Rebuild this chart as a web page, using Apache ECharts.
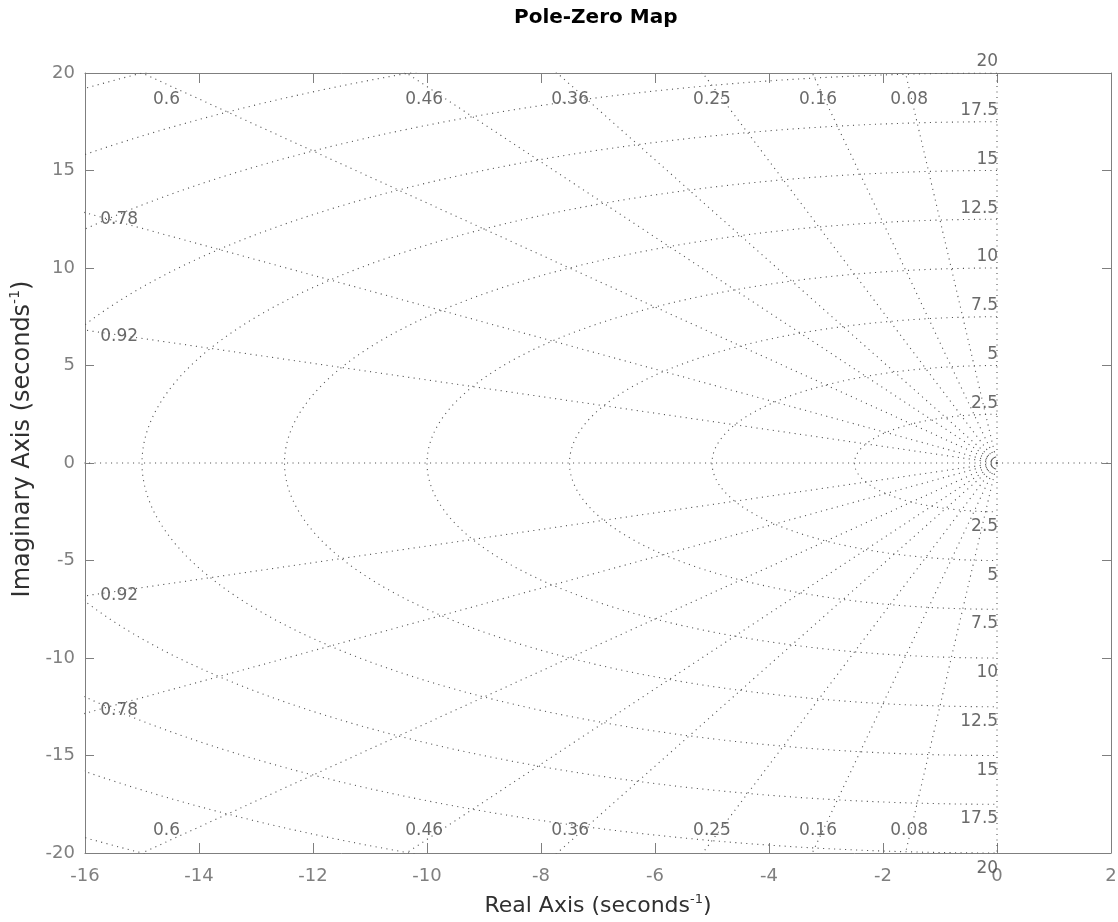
<!DOCTYPE html>
<html><head><meta charset="utf-8">
<script src="https://cdn.jsdelivr.net/npm/echarts@6/dist/echarts.min.js"></script>
<style>html,body{margin:0;padding:0;background:#fff}#c{width:1118px;height:922px}</style>
</head><body><div id="c"></div>
<script>
// ---- chart content ----
const xTicks = [-16, -14, -12, -10, -8, -6, -4, -2, 0, 2];
const yTicks = [-20, -15, -10, -5, 0, 5, 10, 15, 20];
const zetaValues = [0.08, 0.16, 0.25, 0.36, 0.46, 0.6, 0.78, 0.92];
const wnValues = [2.5, 5, 7.5, 10, 12.5, 15, 17.5, 20, 22.5, 25];
const wnLabelValues = [2.5, 5, 7.5, 10, 12.5, 15, 17.5, 20];
const zetaEdgeLabels = ['0.6', '0.46', '0.36', '0.25', '0.16', '0.08'];
const zetaEdgeLabelX = [-14.57, -10.05, -7.49, -5.0, -3.14, -1.54];
const zetaEdgeLabelY = [18.65, -18.85];
const zetaSideLabels = ['0.78', '0.92'];
const zetaSideLabelX = -15.4;
const zetaSideLabelY = [[12.5, -12.7], [6.5, -6.8]];
const wnLabelOffset = [0.57, -0.75];

// ---- styles ----
const FONT = 'DejaVu Sans';
const AXIS_C = '#7f7f7f';
const GRID_C = '#555555';
const GRIDTXT_C = '#454545';
const NAME_C = '#303030';
const dotted = { color: GRID_C, width: 1.1, type: [1.1, 4.4] };

const series = [];
function addLine(pts) {
  series.push({
    type: 'line', data: pts, showSymbol: false, symbol: 'none', silent: true,
    clip: true, lineStyle: dotted, emphasis: { disabled: true }, animation: false,
    xAxisIndex: 0, yAxisIndex: 0
  });
}
const rMax = wnValues[wnValues.length - 1];
// damping-ratio rays
zetaValues.forEach(z => {
  const s = Math.sqrt(1 - z * z);
  addLine([[0, 0], [-rMax * z, rMax * s]]);
  addLine([[0, 0], [-rMax * z, -rMax * s]]);
});
// real and imaginary axis lines
addLine([[-rMax, 0], [xTicks[xTicks.length - 1], 0]]);
addLine([[0, -rMax], [0, rMax]]);
// natural-frequency semicircles (left half plane)
wnValues.forEach(r => {
  const pts = [];
  for (let k = 0; k <= 360; k++) {
    const t = Math.PI / 2 + Math.PI * k / 360;
    pts.push([r * Math.cos(t), r * Math.sin(t)]);
  }
  addLine(pts);
});

// labels
const txtStyle = { fontFamily: FONT, fontSize: 17, color: GRIDTXT_C };
const wnLabelData = [];
wnLabelValues.forEach(w => {
  wnLabelData.push({ value: [0.02, w + wnLabelOffset[0]], name: String(w) });
  wnLabelData.push({ value: [0.02, -w + wnLabelOffset[1] + (w === 20 ? -0.05 : 0)], name: String(w) });
});
series.push({
  type: 'scatter', data: wnLabelData, symbolSize: 0, clip: false, silent: true, animation: false,
  label: Object.assign({ show: true, position: 'left', distance: 0, formatter: p => p.name }, txtStyle)
});
const zetaLabelData = [];
zetaEdgeLabels.forEach((t, i) => {
  zetaEdgeLabelY.forEach(y => zetaLabelData.push({ value: [zetaEdgeLabelX[i], y], name: t }));
});
zetaSideLabels.forEach((t, i) => {
  zetaSideLabelY[i].forEach(y => zetaLabelData.push({ value: [zetaSideLabelX, y], name: t }));
});
series.push({
  type: 'scatter', data: zetaLabelData, symbolSize: 0, clip: false, silent: true, animation: false,
  label: Object.assign({ show: true, position: 'inside', formatter: p => p.name }, txtStyle)
});

const xInt = xTicks[1] - xTicks[0];
const yInt = yTicks[1] - yTicks[0];
const axisCommon = {
  type: 'value', splitLine: { show: false },
  axisLine: { show: true, onZero: false, lineStyle: { color: AXIS_C, width: 1 } },
  axisTick: { show: true, inside: true, lineStyle: { color: AXIS_C, width: 1 } }
};
const nameRich = (size) => ({
  a: { fontFamily: FONT, fontSize: size, color: NAME_C, lineHeight: size + 4 },
  s: { fontFamily: FONT, fontSize: Math.round(size * 0.6), color: NAME_C, verticalAlign: 'top', lineHeight: Math.round(size * 0.6) }
});

const chart = echarts.init(document.getElementById('c'), null, { renderer: 'canvas' });
chart.setOption({
  backgroundColor: '#fff',
  animation: false,
  title: {
    text: 'Pole-Zero Map', left: 514, top: 8, padding: 0,
    textStyle: { fontFamily: FONT, fontSize: 20, fontWeight: 'bold', color: '#000' }
  },
  grid: { left: 85, right: 7, top: 73, bottom: 69, containLabel: false, outerBoundsMode: 'none' },
  xAxis: [
    Object.assign({}, axisCommon, {
      min: xTicks[0], max: xTicks[xTicks.length - 1], interval: xInt, position: 'bottom',
      axisTick: { show: true, inside: true, length: 10, lineStyle: { color: AXIS_C } },
      axisLabel: { color: AXIS_C, fontFamily: FONT, fontSize: 18, margin: 14 },
      name: '{a|Real Axis (seconds}{s|-1}{a|)}', nameLocation: 'middle', nameGap: 40,
      nameTextStyle: { rich: nameRich(22) }
    }),
    Object.assign({}, axisCommon, {
      min: xTicks[0], max: xTicks[xTicks.length - 1], interval: xInt, position: 'top',
      axisTick: { show: true, inside: true, length: 10, lineStyle: { color: AXIS_C } },
      axisLabel: { show: false }
    })
  ],
  yAxis: [
    Object.assign({}, axisCommon, {
      min: yTicks[0], max: yTicks[yTicks.length - 1], interval: yInt, position: 'left',
      axisTick: { show: true, inside: true, length: 9, lineStyle: { color: AXIS_C } },
      axisLabel: { color: AXIS_C, fontFamily: FONT, fontSize: 18, margin: 10 },
      name: '{a|Imaginary Axis (seconds}{s|-1}{a|)}', nameLocation: 'middle', nameGap: 46,
      nameTextStyle: { rich: nameRich(24), padding: [0, 0, 0, 48] }
    }),
    Object.assign({}, axisCommon, {
      min: yTicks[0], max: yTicks[yTicks.length - 1], interval: yInt, position: 'right',
      axisTick: { show: true, inside: true, length: 9, lineStyle: { color: AXIS_C } },
      axisLabel: { show: false }
    })
  ],
  series: series
});
</script></body></html>
